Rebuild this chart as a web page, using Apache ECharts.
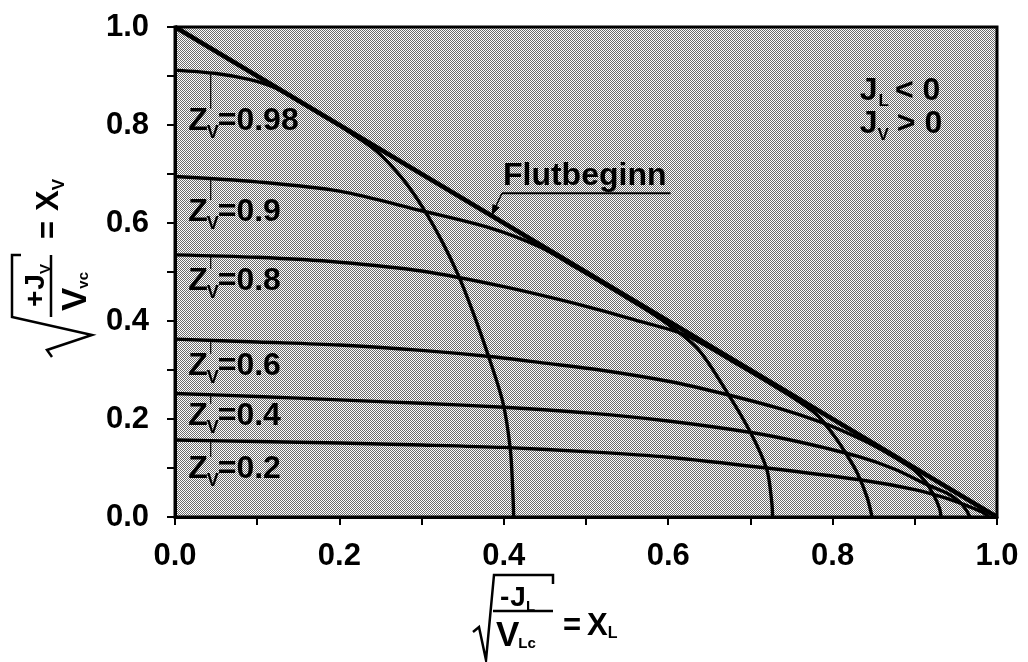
<!DOCTYPE html>
<html>
<head>
<meta charset="utf-8">
<script src="https://cdn.jsdelivr.net/npm/echarts@6/dist/echarts.min.js"></script>
<style>html,body{margin:0;padding:0;background:#fff}#c{width:1028px;height:662px}</style>
</head>
<body>
<div id="c"></div>
<script>
// ---------- data ----------
const floodLine = [[0, 1.0], [1.0, 0]];
const zv098 = [[0,0.912],[0.05,0.905],[0.09,0.893],[0.12,0.877],[0.15,0.849],[0.18,0.819],[0.21,0.788],[0.245,0.747],[0.277,0.69],[0.302,0.63],[0.325,0.562],[0.345,0.492],[0.362,0.42],[0.38,0.335],[0.399,0.233],[0.408,0.137],[0.411,0.05],[0.412,0]];
const zv09  = [[0,0.695],[0.1,0.684],[0.2,0.665],[0.3,0.625],[0.383,0.59],[0.444,0.551],[0.49,0.507],[0.54,0.457],[0.59,0.405],[0.635,0.345],[0.671,0.256],[0.70,0.173],[0.72,0.097],[0.726,0.03],[0.727,0]];
const zv08  = [[0,0.535],[0.1,0.530],[0.2,0.520],[0.3,0.502],[0.4,0.470],[0.5,0.430],[0.56,0.402],[0.62,0.372],[0.68,0.316],[0.74,0.256],[0.78,0.21],[0.80,0.17],[0.815,0.133],[0.83,0.09],[0.842,0.04],[0.848,0]];
const zv06  = [[0,0.363],[0.1,0.357],[0.2,0.351],[0.3,0.34],[0.386,0.327],[0.45,0.314],[0.517,0.30],[0.6,0.277],[0.671,0.25],[0.736,0.221],[0.785,0.194],[0.82,0.17],[0.85,0.146],[0.88,0.117],[0.9,0.095],[0.913,0.072],[0.923,0.045],[0.93,0.018],[0.932,0]];
const zv04  = [[0,0.252],[0.1,0.246],[0.2,0.239],[0.3,0.232],[0.4,0.224],[0.505,0.212],[0.6,0.196],[0.703,0.172],[0.76,0.153],[0.83,0.124],[0.875,0.098],[0.915,0.066],[0.94,0.048],[0.955,0.03],[0.963,0.013],[0.967,0]];
const zv02  = [[0,0.157],[0.1,0.154],[0.2,0.151],[0.3,0.147],[0.4,0.142],[0.505,0.133],[0.6,0.122],[0.72,0.1],[0.833,0.076],[0.9,0.056],[0.939,0.038],[0.965,0.022],[0.982,0.01],[0.99,0]];
const zvCurves = [zv098, zv09, zv08, zv06, zv04, zv02];
const zvLabels = ['0.98', '0.9', '0.8', '0.6', '0.4', '0.2'];
const zvLabelBase = [0.786, 0.600, 0.459, 0.286, 0.184, 0.0755]; // label baselines (data y)
const zvLabelX = 0.016;
const floodLabel = 'Flutbeginn';
const floodLabelPos = [0.399, 0.673];
const floodArrowX = 0.385;
const signLabelPos = [0.833, 0.847, 0.78];

// ---------- helpers ----------
const FONT = '"Liberation Sans", Arial, Helvetica, sans-serif';
const mctx = document.createElement('canvas').getContext('2d');
function tw(s, size) { mctx.font = 'bold ' + size + 'px ' + FONT; return mctx.measureText(s).width; }
function txt(t, size, x, base) {
  return { type: 'text', x: x, y: base - 0.3465 * size, silent: true,
    style: { text: t, font: 'bold ' + size + 'px ' + FONT, fill: '#000',
      align: 'left', verticalAlign: 'middle', textAlign: 'left', textVerticalAlign: 'middle' } };
}
function runs(list, x0, base, out) {
  let x = x0;
  list.forEach(r => {
    const t = r[0], size = r[1], dy = r[2] || 0, gap = r[3] || 0;
    x += gap;
    out.push(txt(t, size, x, base + dy));
    x += tw(t, size);
  });
  return x;
}
function line(pts, w) {
  return { type: 'polyline', silent: true, shape: { points: pts }, style: { stroke: '#000', lineWidth: w, fill: null, lineJoin: 'miter' } };
}
function yAt(curve, x) {
  for (let i = 0; i < curve.length - 1; i++) {
    const a = curve[i], b = curve[i + 1];
    if (x >= a[0] && x <= b[0]) return a[1] + (b[1] - a[1]) * (x - a[0]) / (b[0] - a[0]);
  }
  return curve[curve.length - 1][1];
}
function stipple() {
  const c = document.createElement('canvas'); c.width = 2; c.height = 2;
  const g = c.getContext('2d');
  g.fillStyle = '#ffffff'; g.fillRect(0, 0, 2, 2);
  g.fillStyle = '#6c6c6c'; g.fillRect(0, 0, 1, 1); g.fillRect(1, 1, 1, 1);
  return c;
}

const labelFmt = v => { const k = Math.round(v * 10); return k % 2 === 0 ? (k / 10).toFixed(1) : ''; };
const axisCommon = {
  type: 'value', min: 0, max: 1, interval: 0.1,
  axisLine: { show: true, lineStyle: { color: '#000', width: 3 } },
  axisTick: { show: true, length: 8, lineStyle: { color: '#000', width: 2 } },
  splitLine: { show: false },
  axisLabel: { formatter: labelFmt, color: '#000', fontSize: 31, fontWeight: 'bold', fontFamily: FONT }
};

const chart = echarts.init(document.getElementById('c'), null, { renderer: 'canvas' });
const series = [{ type: 'line', data: floodLine, symbol: 'none', lineStyle: { color: '#000', width: 4.5 }, z: 3 }];
zvCurves.forEach((c, i) => series.push({
  type: 'line', name: 'Zv=' + zvLabels[i], data: c, symbol: 'none', smooth: 0.3,
  lineStyle: { color: '#000', width: 3.4 }, z: 2
}));
chart.setOption({
  animation: false,
  backgroundColor: '#fff',
  grid: { left: 175, right: 31, top: 27, bottom: 145, show: true,
    backgroundColor: { image: stipple(), repeat: 'repeat' }, borderColor: '#000', borderWidth: 3 },
  xAxis: Object.assign({}, axisCommon, { axisLabel: Object.assign({}, axisCommon.axisLabel, { margin: 24 }) }),
  yAxis: Object.assign({}, axisCommon, { axisLabel: Object.assign({}, axisCommon.axisLabel, { margin: 26 }) }),
  series: series
});

// ---------- annotations ----------
const P = (x, y) => chart.convertToPixel({ gridIndex: 0 }, [x, y]);
const g = [];
// Z_V labels with leader lines
zvLabels.forEach((lab, i) => {
  const p = P(zvLabelX, zvLabelBase[i]);
  const x0 = p[0], base = p[1];
  const zEnd = x0 + tw('Z', 32);
  runs([['Z', 32], ['V', 18, 7, -1], ['=' + lab, 32, 0, -1]], x0, base, g);
  const lx = zEnd + 3;
  const xd = chart.convertFromPixel({ gridIndex: 0 }, [lx, 0])[0];
  const yc = P(xd, yAt(zvCurves[i], xd))[1];
  g.push(line([[lx, yc + 1], [lx, base - 23]], 1.2));
});
// Flutbeginn label with underline and arrow
(function () {
  const p = P(floodLabelPos[0], floodLabelPos[1]);
  const x0 = p[0], base = p[1];
  g.push(txt(floodLabel, 32, x0, base));
  const w = tw(floodLabel, 32);
  const uy = base + 6;
  g.push(line([[x0 - 1, uy], [x0 + w + 4, uy]], 2));
  const tip = P(floodArrowX, yAt(floodLine, floodArrowX));
  const sx = x0 - 1, sy = uy;
  g.push(line([[sx, sy], [tip[0], tip[1]]], 1.5));
  const dx = tip[0] - sx, dy = tip[1] - sy, L = Math.hypot(dx, dy);
  const ux = dx / L, uy2 = dy / L, nx = -uy2, ny = ux;
  const bx = tip[0] - ux * 11, by = tip[1] - uy2 * 11;
  g.push({ type: 'polygon', silent: true, shape: { points: [[tip[0], tip[1]], [bx + nx * 4, by + ny * 4], [bx - nx * 4, by - ny * 4]] }, style: { fill: '#000' } });
})();
// J_L < 0, J_V > 0
(function () {
  const p1 = P(signLabelPos[0], signLabelPos[1]);
  const p2 = P(signLabelPos[0], signLabelPos[2]);
  runs([['J', 32], ['L', 17, 5, 1], ['<', 32, 0, 6], ['0', 32, 0, 9]], p1[0], p1[1], g);
  runs([['J', 32], ['V', 17, 6, 0], ['>', 32, 0, 8], ['0', 32, 0, 9]], p2[0], p2[1], g);
})();
// x-axis title  sqrt(-J_L / V_Lc) = X_L
(function () {
  const ox = 473, oy = 575;
  const ch = [];
  ch.push(line([[0, 57], [6, 52], [13, 85], [21, 0], [80, 0], [80, 9]], 2.5));
  runs([['-', 28], ['J', 28, 0, 1], ['L', 15, 4, 0]], 27, 33, ch);
  ch.push(line([[20, 36], [80, 36]], 2.5));
  runs([['V', 35], ['Lc', 15, 1, -1]], 23, 73, ch);
  runs([['=', 31], ['X', 31, 0, 6], ['L', 16, 2, 0]], 90, 62, ch);
  g.push({ type: 'group', x: ox, y: oy, children: ch });
})();
// y-axis title  sqrt(+J_V / V_Vc) = X_V  (rotated)
(function () {
  const ch = [];
  ch.push(line([[0, 40], [7, 35], [22, 80], [40, 0], [102, 0], [102, 9]], 2.5));
  runs([['+', 28], ['J', 28, 0, 1], ['V', 15, 5, 0]], 50, 34, ch);
  ch.push(line([[40, 39], [102, 39]], 2.5));
  runs([['V', 35], ['vc', 15, 1, -1]], 46, 76, ch);
  runs([['=', 31], ['X', 31, 0, 10], ['V', 17, 5, 0]], 118, 48, ch);
  g.push({ type: 'group', x: 12, y: 357, rotation: Math.PI / 2, children: ch });
})();
chart.setOption({ graphic: g });
</script>
</body>
</html>
